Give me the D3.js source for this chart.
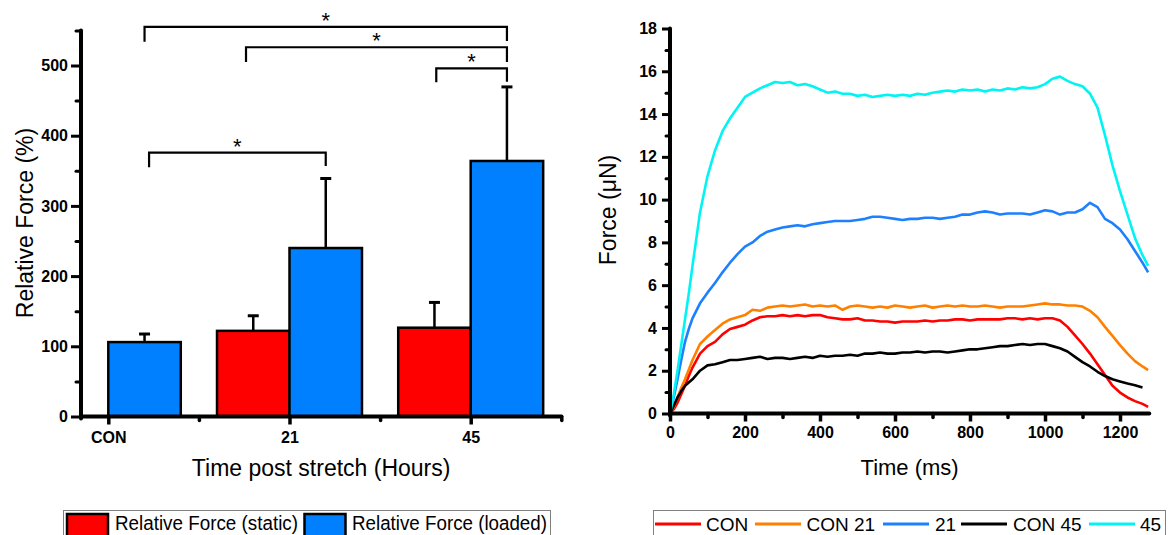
<!DOCTYPE html>
<html><head><meta charset="utf-8">
<script src="https://cdn.jsdelivr.net/npm/d3@7"></script>
<style>
html,body{margin:0;padding:0;background:#fff;}
svg{display:block;font-family:"Liberation Sans",Arial,sans-serif;}
</style></head><body>
<svg id="c" width="1170" height="535"></svg>
<script>
// ---------- Left chart data ----------
const groups = ["CON", "21", "45"];
const staticMean = [null, 122, 126.5];
const staticSD = [null, 21.5, 36];
const loadedMean = [106, 240, 364];
const loadedSD = [11.5, 99, 105.5];
const leftYTicks = [0, 100, 200, 300, 400, 500];
const leftYMinor = [50, 150, 250, 350, 450, 550];
const barNames = ["Relative Force (static)", "Relative Force (loaded)"];
const barColors = ["#ff0000", "#0080ff"];
// significance brackets (x in group units, y in %)
const brX1 = [1.2, 1.76, 2.81, 1.225];
const brX2 = [3.2, 3.2, 3.2, 2.2];
const brY = [555, 526, 496, 376];
const brDrop1 = [534, 505, 476, 355];
const brDrop2 = [535, 505, 477, 357];
const brLabel = ["*", "*", "*", "*"];

// ---------- Right chart data ----------
const timeMs = [0,10,20,30,40,50,60,80,100,120,140,160,180,200,220,240,260,280,300,320,340,360,380,400,420,440,460,480,500,520,540,560,580,600,620,640,660,680,700,720,740,760,780,800,820,840,860,880,900,920,940,960,980,1000,1020,1040,1060,1080,1100,1120,1140,1160,1180,1200,1220,1240,1260,1275];
const forceCON = [0,0.2,0.5,0.9,1.3,1.75,2.15,2.8,3.15,3.35,3.7,3.95,4.05,4.15,4.35,4.5,4.55,4.55,4.6,4.55,4.6,4.55,4.6,4.6,4.5,4.45,4.4,4.4,4.45,4.35,4.35,4.3,4.3,4.25,4.3,4.3,4.3,4.35,4.3,4.35,4.35,4.4,4.4,4.35,4.4,4.4,4.4,4.4,4.45,4.45,4.4,4.45,4.4,4.45,4.45,4.35,4.05,3.65,3.25,2.8,2.3,1.8,1.3,0.98,0.75,0.58,0.45,0.31];
const forceCON21 = [0,0.3,0.75,1.2,1.6,2.05,2.5,3.25,3.6,3.9,4.2,4.4,4.5,4.6,4.85,4.8,4.95,5.0,5.05,5.0,5.05,5.1,5.0,5.05,5.0,5.05,4.85,5.0,5.05,5.0,4.95,5.0,4.95,5.05,5.0,4.95,5.0,5.05,4.95,5.0,5.05,5.0,5.05,5.0,5.0,5.05,5.0,4.95,5.0,5.0,5.0,5.05,5.1,5.15,5.1,5.1,5.05,5.05,5.0,4.8,4.5,4.05,3.63,3.2,2.8,2.45,2.2,2.03];
const force21 = [0,0.75,1.6,2.5,3.35,3.95,4.45,5.15,5.65,6.1,6.6,7.05,7.45,7.8,8.0,8.3,8.5,8.6,8.7,8.75,8.8,8.75,8.85,8.9,8.95,9.0,9.0,9.0,9.05,9.1,9.2,9.2,9.15,9.1,9.05,9.1,9.1,9.15,9.15,9.1,9.15,9.2,9.3,9.3,9.4,9.45,9.4,9.3,9.35,9.35,9.35,9.3,9.4,9.5,9.45,9.3,9.4,9.4,9.55,9.85,9.65,9.1,8.9,8.6,8.15,7.6,7.05,6.6];
const forceCON45 = [0,0.35,0.75,1.05,1.3,1.45,1.6,2.0,2.25,2.3,2.4,2.5,2.5,2.55,2.6,2.65,2.55,2.6,2.6,2.55,2.6,2.65,2.6,2.7,2.65,2.7,2.7,2.75,2.7,2.8,2.8,2.85,2.8,2.8,2.85,2.85,2.9,2.85,2.9,2.9,2.85,2.9,2.95,3.0,3.0,3.05,3.1,3.15,3.15,3.2,3.25,3.2,3.25,3.25,3.15,3.05,2.9,2.65,2.4,2.2,1.95,1.75,1.6,1.5,1.4,1.32,1.22,null];
const force45 = [0,0.9,2.0,3.2,4.4,5.6,6.9,9.4,11.1,12.3,13.2,13.8,14.3,14.8,15.0,15.2,15.35,15.5,15.45,15.5,15.35,15.4,15.3,15.15,15.0,15.05,14.95,14.95,14.85,14.9,14.8,14.85,14.9,14.85,14.9,14.85,14.95,14.9,15.0,15.05,15.1,15.05,15.15,15.1,15.15,15.05,15.15,15.1,15.2,15.15,15.25,15.2,15.25,15.4,15.65,15.75,15.55,15.4,15.3,14.95,14.3,13.0,11.6,10.4,9.3,8.2,7.4,6.9];
const seriesNames = ["CON", "CON 21", "21", "CON 45", "45"];
const seriesColors = ["#ff0000", "#ff8000", "#1e80ff", "#000000", "#00f4f4"];
const seriesValues = [forceCON, forceCON21, force21, forceCON45, force45];
const rightYTicks = [0,2,4,6,8,10,12,14,16,18];
const rightYMinor = [1,3,5,7,9,11,13,15,17];
const rightXTicks = [0,200,400,600,800,1000,1200];
const rightXMinor = [100,300,500,700,900,1100];

const svg = d3.select("#c");
const TICKFONT = 16;

// ================= LEFT CHART =================
const xL = d3.scaleLinear().domain([1, 3]).range([108.3, 470.7]);
const yL = d3.scaleLinear().domain([0, 500]).range([416.5, 65.5]);
const barW = 0.4;
const gL = svg.append("g");

const bars = [];
groups.forEach((g, i) => {
  if (staticMean[i] != null) bars.push({x0: i + 1 - barW, x1: i + 1, v: staticMean[i], sd: staticSD[i], c: barColors[0]});
  if (loadedMean[i] != null) bars.push({x0: i + 1, x1: i + 1 + barW, v: loadedMean[i], sd: loadedSD[i], c: barColors[1]});
});

// error bars
const eb = gL.append("g");
bars.forEach(b => {
  const cx = (xL(b.x0) + xL(b.x1)) / 2;
  eb.append("line").attr("x1", cx).attr("x2", cx).attr("y1", yL(b.v)).attr("y2", yL(b.v + b.sd))
    .attr("stroke", "#000").attr("stroke-width", 2.5);
  eb.append("line").attr("x1", cx - 5.5).attr("x2", cx + 5.5).attr("y1", yL(b.v + b.sd)).attr("y2", yL(b.v + b.sd))
    .attr("stroke", "#000").attr("stroke-width", 3);
});
gL.append("g").selectAll("rect").data(bars).join("rect")
  .attr("x", d => xL(d.x0)).attr("width", d => xL(d.x1) - xL(d.x0))
  .attr("y", d => yL(d.v)).attr("height", d => yL(0) - yL(d.v))
  .attr("fill", d => d.c).attr("stroke", "#000").attr("stroke-width", 2.5);

// brackets
const br = gL.append("g");
brX1.forEach((x1, i) => {
  const x2 = brX2[i];
  br.append("path")
    .attr("d", `M${xL(x1)},${yL(brDrop1[i])}V${yL(brY[i])}H${xL(x2)}V${yL(brDrop2[i])}`)
    .attr("fill", "none").attr("stroke", "#000").attr("stroke-width", 2.2);
  br.append("text").attr("x", (xL(x1) + xL(x2)) / 2).attr("y", yL(brY[i]) + 1)
    .attr("text-anchor", "middle").attr("font-size", 22).text(brLabel[i]);
});

// y axis (left)
const axL = 81;
gL.append("line").attr("x1", axL).attr("x2", axL).attr("y1", yL(0) + 2).attr("y2", yL(550))
  .attr("stroke", "#000").attr("stroke-width", 4).attr("stroke-linecap", "round");
const yAxL = gL.append("g").attr("transform", `translate(${axL},0)`)
  .call(d3.axisLeft(yL).tickValues(leftYTicks).tickSize(10).tickPadding(3).tickFormat(d3.format("d")));
yAxL.select(".domain").remove();
yAxL.selectAll(".tick line").attr("stroke-width", 3);
yAxL.selectAll("text").attr("font-size", TICKFONT).attr("font-weight", "bold").attr("font-family", "Liberation Sans, Arial, sans-serif");
const yAxLm = gL.append("g").attr("transform", `translate(${axL},0)`)
  .call(d3.axisLeft(yL).tickValues(leftYMinor).tickSize(5).tickFormat(""));
yAxLm.select(".domain").remove();
yAxLm.selectAll(".tick line").attr("stroke-width", 3).attr("stroke-linecap", "round");

// x axis (left)
gL.append("line").attr("x1", axL).attr("x2", xL(3.5)).attr("y1", yL(0)).attr("y2", yL(0))
  .attr("stroke", "#000").attr("stroke-width", 4).attr("stroke-linecap", "round");
const xAxL = gL.append("g").attr("transform", `translate(0,${yL(0)})`)
  .call(d3.axisBottom(xL).tickValues([1, 2, 3]).tickSize(8).tickPadding(7).tickFormat(d => groups[d - 1]));
xAxL.select(".domain").remove();
xAxL.selectAll(".tick line").attr("stroke-width", 3.5);
xAxL.selectAll("text").attr("font-size", TICKFONT).attr("font-weight", "bold").attr("font-family", "Liberation Sans, Arial, sans-serif");
const xAxLm = gL.append("g").attr("transform", `translate(0,${yL(0)})`)
  .call(d3.axisBottom(xL).tickValues([1.5, 2.5, 3.5]).tickSize(4).tickFormat(""));
xAxLm.select(".domain").remove();
xAxLm.selectAll(".tick line").attr("stroke-width", 3.5).attr("stroke-linecap", "round");

gL.append("text").attr("transform", "translate(33,223) rotate(-90)").attr("text-anchor", "middle")
  .attr("font-size", 23).text("Relative Force (%)");
gL.append("text").attr("x", (axL + xL(3.5)) / 2).attr("y", 476).attr("text-anchor", "middle")
  .attr("font-size", 23).text("Time post stretch (Hours)");

// left legend
const lgL = svg.append("g");
lgL.append("rect").attr("x", 63.5).attr("y", 510.5).attr("width", 487).attr("height", 40)
  .attr("fill", "none").attr("stroke", "#808080").attr("stroke-width", 1);
const legLX = [67, 304.5];
const legLT = [115, 352];
const legLW = [183, 195];
barNames.forEach((n, i) => {
  lgL.append("rect").attr("x", legLX[i]).attr("y", 514).attr("width", 41).attr("height", 30)
    .attr("fill", barColors[i]).attr("stroke", "#000").attr("stroke-width", 2.5);
  lgL.append("text").attr("x", legLT[i]).attr("y", 530).attr("font-size", 19.5)
    .attr("textLength", legLW[i]).attr("lengthAdjust", "spacingAndGlyphs").text(n);
});

// ================= RIGHT CHART =================
const xR = d3.scaleLinear().domain([0, 1200]).range([670, 1120]);
const yR = d3.scaleLinear().domain([0, 18]).range([413.5, 28.5]);
const gR = svg.append("g");

const lineGen = d3.line().defined(d => d[1] != null).x(d => xR(d[0])).y(d => yR(d[1]));
seriesValues.forEach((vals, i) => {
  gR.append("path").datum(timeMs.map((t, k) => [t, vals[k]]))
    .attr("d", lineGen).attr("fill", "none").attr("stroke", seriesColors[i])
    .attr("stroke-width", 2.6).attr("stroke-linejoin", "round");
});

const axR = xR(0);
gR.append("line").attr("x1", axR).attr("x2", axR).attr("y1", yR(0) + 2).attr("y2", yR(18))
  .attr("stroke", "#000").attr("stroke-width", 4).attr("stroke-linecap", "round");
const yAxR = gR.append("g").attr("transform", `translate(${axR},0)`)
  .call(d3.axisLeft(yR).tickValues(rightYTicks).tickSize(8).tickPadding(5).tickFormat(d3.format("d")));
yAxR.select(".domain").remove();
yAxR.selectAll(".tick line").attr("stroke-width", 3);
yAxR.selectAll("text").attr("font-size", TICKFONT).attr("font-weight", "bold").attr("font-family", "Liberation Sans, Arial, sans-serif");
const yAxRm = gR.append("g").attr("transform", `translate(${axR},0)`)
  .call(d3.axisLeft(yR).tickValues(rightYMinor).tickSize(4).tickFormat(""));
yAxRm.select(".domain").remove();
yAxRm.selectAll(".tick line").attr("stroke-width", 3).attr("stroke-linecap", "round");

gR.append("line").attr("x1", axR).attr("x2", xR(1278)).attr("y1", yR(0)).attr("y2", yR(0))
  .attr("stroke", "#000").attr("stroke-width", 4).attr("stroke-linecap", "round");
const xAxR = gR.append("g").attr("transform", `translate(0,${yR(0)})`)
  .call(d3.axisBottom(xR).tickValues(rightXTicks).tickSize(8).tickPadding(5).tickFormat(d3.format("d")));
xAxR.select(".domain").remove();
xAxR.selectAll(".tick line").attr("stroke-width", 3.5);
xAxR.selectAll("text").attr("font-size", TICKFONT).attr("font-weight", "bold").attr("font-family", "Liberation Sans, Arial, sans-serif");
const xAxRm = gR.append("g").attr("transform", `translate(0,${yR(0)})`)
  .call(d3.axisBottom(xR).tickValues(rightXMinor).tickSize(4).tickFormat(""));
xAxRm.select(".domain").remove();
xAxRm.selectAll(".tick line").attr("stroke-width", 3.5).attr("stroke-linecap", "round");

gR.append("text").attr("transform", "translate(616,210) rotate(-90)").attr("text-anchor", "middle")
  .attr("font-size", 23).text("Force (\u03BCN)");
gR.append("text").attr("x", (axR + xR(1278)) / 2).attr("y", 475).attr("text-anchor", "middle")
  .attr("font-size", 22).text("Time (ms)");

// right legend
const lgR = svg.append("g");
lgR.append("rect").attr("x", 653.5).attr("y", 510.5).attr("width", 512).attr("height", 40)
  .attr("fill", "none").attr("stroke", "#808080").attr("stroke-width", 1);
const legRL = [655, 755, 883, 961, 1089];
const legRT = [706, 806.5, 935, 1013, 1140];
seriesNames.forEach((n, i) => {
  lgR.append("line").attr("x1", legRL[i]).attr("x2", legRL[i] + 46).attr("y1", 524).attr("y2", 524)
    .attr("stroke", seriesColors[i]).attr("stroke-width", 3);
  lgR.append("text").attr("x", legRT[i]).attr("y", 530.5).attr("font-size", 19).text(n);
});
</script>
</body></html>
